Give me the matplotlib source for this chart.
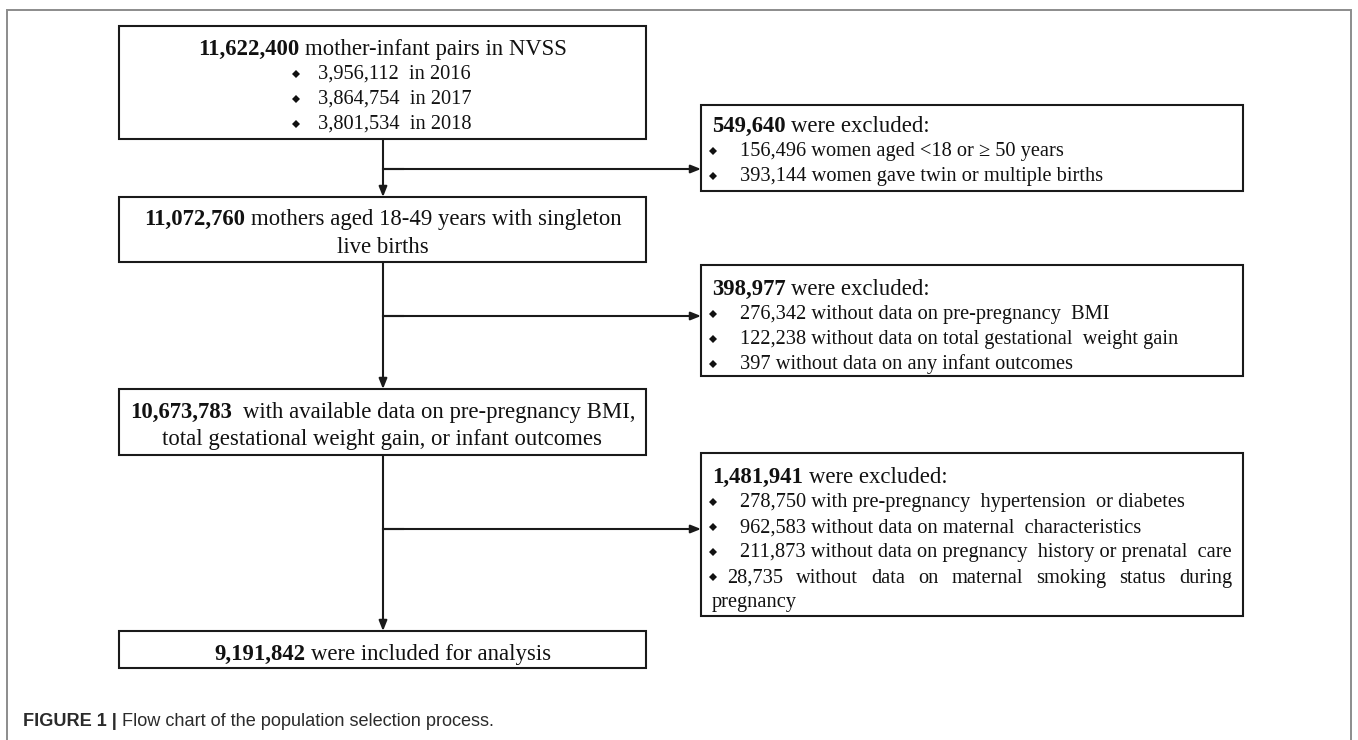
import matplotlib.pyplot as plt
from matplotlib.patches import Rectangle

# ---------------------------------------------------------------------
# Flow chart content

step_counts = ['11,622,400', '11,072,760', '10,673,783', '9,191,842']
step_texts = [[' mother-infant pairs in NVSS'],
              [' mothers aged 18-49 years with singleton', 'live births'],
              ['  with available data on pre-pregnancy BMI,',
               'total gestational weight gain, or infant outcomes'],
              [' were included for analysis']]

years = ['2016', '2017', '2018']
year_counts = ['3,956,112', '3,864,754', '3,801,534']

excluded_totals = ['549,640', '398,977', '1,481,941']
excluded_reasons = [
    ['156,496 women aged <18 or \u2265 50 years',
     '393,144 women gave twin or multiple births'],
    ['276,342 without data on pre-pregnancy  BMI',
     '122,238 without data on total gestational  weight gain',
     '397 without data on any infant outcomes'],
    ['278,750 with pre-pregnancy  hypertension  or diabetes',
     '962,583 without data on maternal  characteristics',
     '211,873 without data on pregnancy  history or prenatal  care',
     '28,735 without data on maternal smoking status during pregnancy'],
]

caption_bold = 'FIGURE 1 |'
caption_text = 'Flow chart of the population selection process.'

# ---------------------------------------------------------------------
# Layout (pixels, y down)

W, H = 1358, 740
main_x = (119, 646)
arrow_x = 383
main_y = [(26, 139), (197, 262), (389, 455), (631, 668)]
main_lines = [[47], [217, 245], [410, 437], [652]]
year_lines = [72, 97, 122]

excl_x = (701, 1243)
excl_y = [(105, 191), (265, 376), (453, 616)]
excl_first = [124, 287, 475]
excl_step = 25.2
branch_y = [169, 316, 529]

FS = 16.4     # headline text
BS = 14.7     # bullet text
serif = ['Liberation Serif', 'DejaVu Serif']
ink = '#111111'
edge = '#1a1a1a'

fig = plt.figure(figsize=(W / 100, H / 100), dpi=100)
ax = fig.add_axes([0, 0, 1, 1])
ax.set_xlim(0, W)
ax.set_ylim(H, 0)
ax.axis('off')
renderer = fig.canvas.get_renderer()


def text_width(s, **kw):
    t = ax.text(0, 0, s, **kw)
    w = t.get_window_extent(renderer).width
    t.remove()
    return w


def styles(size):
    reg = dict(family=serif, size=size, color=ink)
    bold = dict(family=serif, size=size, color=ink, weight='bold')
    sp = text_width('a a', **reg) - text_width('aa', **reg)
    return reg, bold, sp


head = styles(FS)
small = styles(BS)


def draw_line(x, yc, bold_part, rest, ha='left', st=head):
    reg, bold, space_w = st
    off = reg['size'] * 100 / 72 * 0.33   # digit centre -> baseline
    n_lead = len(rest) - len(rest.lstrip(' '))
    rest = rest.lstrip(' ')
    wb = text_width(bold_part, **bold) if bold_part else 0
    gap = n_lead * space_w if bold_part else 0
    wr = text_width(rest, **reg) if rest else 0
    if ha == 'center':
        x = x - (wb + gap + wr) / 2
    if bold_part:
        ax.text(x, yc + off, bold_part, ha='left', va='baseline', **bold)
    if rest:
        ax.text(x + wb + gap, yc + off, rest, ha='left', va='baseline', **reg)


def diamond(x, yc):
    ax.plot([x], [yc + 1.5], marker='D', ms=4.2, color=ink, mew=0)


def draw_box(x0, x1, y0, y1):
    ax.add_patch(Rectangle((x0, y0), x1 - x0, y1 - y0, fill=False,
                           ec=edge, lw=1.5))


def arrow(p0, p1):
    ax.annotate('', xy=p1, xytext=p0,
                arrowprops=dict(arrowstyle='-|>,head_length=0.55,head_width=0.22',
                                mutation_scale=11, color=edge, lw=1.5,
                                shrinkA=0, shrinkB=0))


# outer frame
ax.plot([7, 7, 1351, 1351], [H + 20, 10, 10, H + 20], color='#8c8c8c', lw=1.4,
        solid_joinstyle='miter')

# main column
cx = (main_x[0] + main_x[1]) / 2
for i, (y0, y1) in enumerate(main_y):
    draw_box(main_x[0], main_x[1], y0, y1)
    for j, (txt, yc) in enumerate(zip(step_texts[i], main_lines[i])):
        draw_line(cx, yc, step_counts[i] if j == 0 else '', txt, ha='center')

for yr, cnt, yc in zip(years, year_counts, year_lines):
    diamond(296, yc)
    draw_line(318, yc, '', f'{cnt}  in {yr}', st=small)

for i in range(len(main_y) - 1):
    arrow((arrow_x, main_y[i][1]), (arrow_x, main_y[i + 1][0]))
    ax.plot([arrow_x, arrow_x + 20], [branch_y[i], branch_y[i]], color=edge, lw=1.5)
    arrow((arrow_x, branch_y[i]), (excl_x[0], branch_y[i]))

# exclusion boxes
text_x0 = 740
text_x1 = 1232
sreg = small[0]
for i, (y0, y1) in enumerate(excl_y):
    draw_box(excl_x[0], excl_x[1], y0, y1)
    yc = excl_first[i]
    draw_line(712, yc, excluded_totals[i], ' were excluded:')
    for reason in excluded_reasons[i]:
        yc += excl_step
        diamond(713, yc)
        if text_width(reason, **sreg) <= excl_x[1] - 8 - text_x0:
            draw_line(text_x0, yc, '', reason, st=small)
            continue
        # justified line, the rest wrapped to the box's left edge
        words = reason.split()
        start = 727
        fit = []
        for w in words:
            if text_width(' '.join(fit + [w]), **sreg) <= text_x1 - start:
                fit.append(w)
            else:
                break
        widths = [text_width(w, **sreg) for w in fit]
        g = (text_x1 - start - sum(widths)) / (len(fit) - 1)
        x = start
        off = BS * 100 / 72 * 0.33
        for w, ww in zip(fit, widths):
            ax.text(x, yc + off, w, ha='left', va='baseline', **sreg)
            x += ww + g
        yc += excl_step - 1
        draw_line(712, yc, '', ' '.join(words[len(fit):]), st=small)

# caption
cap_kw = dict(family=['Liberation Sans', 'DejaVu Sans'], size=13.1, color='#2b2b2b')
cw = text_width(caption_bold, weight='bold', **cap_kw)
cs = text_width('a a', **cap_kw) - text_width('aa', **cap_kw)
ax.text(23, 725.5, caption_bold, ha='left', va='baseline', weight='bold', **cap_kw)
ax.text(23 + cw + cs, 725.5, caption_text, ha='left', va='baseline', **cap_kw)

fig.savefig('out.png', dpi=100, facecolor='white')
plt.close(fig)
